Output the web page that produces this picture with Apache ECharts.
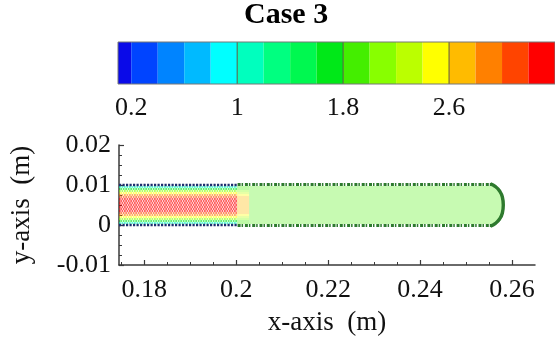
<!DOCTYPE html>
<html><head><meta charset="utf-8">
<script src="https://cdn.jsdelivr.net/npm/echarts@6/dist/echarts.min.js"></script>
<style>html,body{margin:0;padding:0;background:#fff}#c{width:555px;height:341px}</style>
</head><body><div id="c"></div>
<script>
// ---- data ----
const chartTitle = 'Case 3';
const xTicks = [0.18, 0.2, 0.22, 0.24, 0.26];
const xMinorTicks = [0.175, 0.185, 0.19, 0.195, 0.205, 0.21, 0.215, 0.225, 0.23, 0.235, 0.245, 0.25, 0.255];
const yTicks = [-0.01, 0, 0.01, 0.02];
const levelEdges = [0.1, 0.2, 0.4, 0.6, 0.8, 1.0, 1.2, 1.4, 1.6, 1.8, 2.0, 2.2, 2.4, 2.6, 2.8, 3.0, 3.2, 3.4];
const levelColors = ['#0a0ae8', '#0044ff', '#0084ff', '#00baff', '#00ffff', '#00ffbe', '#00ff80', '#00f850', '#00e818',
                     '#44ee00', '#88ff00', '#bbff00', '#ffff00', '#ffbb00', '#ff8000', '#ff4400', '#ff0000'];
const colorbarTicks = [0.2, 1, 1.8, 2.6];
const colorbarLines = [1, 1.8, 2.6];

const rowY = [0.0005, 0.001, 0.0015, 0.002, 0.0025, 0.003, 0.0035, 0.004, 0.0045, 0.005,
              0.0055, 0.006, 0.0065, 0.007, 0.0075, 0.008, 0.0085, 0.009, 0.0095];
const inletValues = [1.1, 1.7, 2.1, 2.5, 2.8, 3.1, 3.2, 3.3, 3.3, 3.3, 3.3, 3.3, 3.2, 3.1, 2.8, 2.5, 2.1, 1.7, 1.1];
const transitionValues = [1.9, 1.9, 2.0, 2.3, 2.5, 2.6, 2.7, 2.7, 2.7, 2.7, 2.7, 2.7, 2.7, 2.6, 2.5, 2.3, 2.0, 1.9, 1.9];
const jetValue = 1.9;
const jetEnd = [0.2562, 0.2568, 0.2572, 0.2575, 0.2577, 0.2579, 0.258, 0.2581, 0.2581, 0.2581,
                0.2581, 0.2581, 0.258, 0.2579, 0.2577, 0.2575, 0.2572, 0.2568, 0.2562];
const inletRange = [0.1745, 0.2002];
const transitionRange = [0.2002, 0.2028];
const wallY = [0, 0.01];
const wallRange = [0.1745, 0.2003];
const jetEdgeY = [-0.0001, 0.0101];
const jetEdgeRange = [0.2003, 0.2558];
const frontArc = [[0.2553, 0.0103], [0.2564, 0.0096], [0.2573, 0.0085], [0.2579, 0.007], [0.2581, 0.005],
                  [0.2579, 0.003], [0.2573, 0.0015], [0.2564, 0.0004], [0.2553, -0.0003]];

// ---- helpers ----
function colorOf(v) {
  for (let i = 0; i < levelColors.length; i++) {
    if (v >= levelEdges[i] && v < levelEdges[i + 1]) return levelColors[i];
  }
  return levelColors[levelColors.length - 1];
}
const FONT = '"Liberation Serif", "Times New Roman", serif';
const TXT = '#111';
const AX = '#3a3a3a';

const series = [];
// colorbar
series.push({
  type: 'custom', xAxisIndex: 2, yAxisIndex: 1, silent: true,
  data: levelColors.map((c, i) => [levelEdges[i], levelEdges[i + 1], i]),
  renderItem: function (params, api) {
    const p0 = api.coord([api.value(0), 1]);
    const p1 = api.coord([api.value(1), 0]);
    return { type: 'rect', shape: { x: p0[0], y: p0[1], width: p1[0] - p0[0], height: p1[1] - p0[1] },
             style: { fill: levelColors[api.value(2)] } };
  }
});
series.push({
  type: 'custom', xAxisIndex: 2, yAxisIndex: 1, silent: true,
  data: colorbarLines.map(v => [v]),
  renderItem: function (params, api) {
    const p0 = api.coord([api.value(0), 1]);
    const p1 = api.coord([api.value(0), 0]);
    return { type: 'line', shape: { x1: p0[0], y1: p0[1], x2: p1[0], y2: p1[1] },
             style: { stroke: '#5a5a40', lineWidth: 1 } };
  }
});
series.push({
  type: 'custom', xAxisIndex: 2, yAxisIndex: 1, silent: true,
  data: [[levelEdges[0], levelEdges[levelEdges.length - 1]]],
  renderItem: function (params, api) {
    const p0 = api.coord([api.value(0), 1]);
    const p1 = api.coord([api.value(1), 0]);
    return { type: 'rect', shape: { x: p0[0], y: p0[1], width: p1[0] - p0[0], height: p1[1] - p0[1] },
             style: { fill: 'none', stroke: '#777', lineWidth: 1 } };
  }
});

function rowLine(x0, x1, y, color, width, dash, opacity, offset) {
  series.push({ type: 'line', xAxisIndex: 0, yAxisIndex: 0, silent: true, symbol: 'none',
    data: [[x0, y], [x1, y]],
    lineStyle: { color: color, width: width, type: dash, dashOffset: offset || 0, opacity: opacity } });
}
rowY.forEach((y, i) => {
  rowLine(inletRange[0], inletRange[1], y, colorOf(inletValues[i]), 2, [1.8, 0.7], 0.62, (i % 2) * 1.25);
  rowLine(transitionRange[0], transitionRange[1], y, colorOf(transitionValues[i]), 2, 'solid', 0.35);
  rowLine(transitionRange[1], jetEnd[i], y, colorOf(jetValue), 2, 'solid', 0.3);
});
wallY.forEach(y => rowLine(wallRange[0], wallRange[1], y, '#1c2f6e', 2.6, [2.2, 1.3], 1));
jetEdgeY.forEach(y => rowLine(jetEdgeRange[0], jetEdgeRange[1], y, '#2e7a2e', 3, [3, 1, 1.5, 1.8], 1));
series.push({ type: 'line', xAxisIndex: 0, yAxisIndex: 0, silent: true, symbol: 'none', smooth: true,
  data: frontArc, lineStyle: { color: '#2e7a2e', width: 3.4 } });

const option = {
  backgroundColor: '#fff',
  animation: false,
  title: { text: chartTitle, left: 244, top: 0, padding: 0,
           textStyle: { fontFamily: FONT, fontSize: 30, fontWeight: 'bold', color: '#000' } },
  grid: [
    { left: 118, top: 145, right: 20, bottom: 76 },
    { left: 118, top: 42, height: 42, width: 452 }
  ],
  xAxis: [
    { gridIndex: 0, type: 'value', min: 0.1745, max: 0.265, position: 'bottom',
      name: 'x-axis  (m)', nameLocation: 'middle', nameGap: 44,
      nameTextStyle: { fontFamily: FONT, fontSize: 27, color: TXT },
      axisLine: { show: true, onZero: false, lineStyle: { color: AX, width: 1.5 } },
      axisTick: { show: true, inside: true, length: 5, customValues: xTicks, lineStyle: { color: AX, width: 1.2 } },
      axisLabel: { customValues: xTicks, margin: 12, fontFamily: FONT, fontSize: 26, color: TXT,
                   formatter: v => String(+(+v).toFixed(3)) },
      splitLine: { show: false } },
    { gridIndex: 0, type: 'value', min: 0.1745, max: 0.265, position: 'bottom',
      axisLine: { show: false, onZero: false },
      axisTick: { show: true, inside: true, length: 3, customValues: xMinorTicks, lineStyle: { color: AX, width: 1 } },
      axisLabel: { show: false }, splitLine: { show: false } },
    { gridIndex: 1, type: 'value', min: levelEdges[0], max: levelEdges[levelEdges.length - 1], position: 'bottom',
      axisLine: { show: false }, axisTick: { show: false }, splitLine: { show: false },
      axisLabel: { customValues: colorbarTicks, margin: 11, fontFamily: FONT, fontSize: 26, color: TXT,
                   formatter: v => String(+(+v).toFixed(2)) } }
  ],
  yAxis: [
    { gridIndex: 0, type: 'value', min: yTicks[0], max: yTicks[yTicks.length - 1], interval: 0.01,
      name: 'y-axis  (m)', nameLocation: 'middle', nameGap: 84, nameRotate: 90,
      nameTextStyle: { fontFamily: FONT, fontSize: 27, color: TXT },
      axisLine: { show: true, onZero: false, lineStyle: { color: AX, width: 1.5 } },
      axisTick: { show: true, inside: true, length: 5, lineStyle: { color: AX, width: 1.2 } },
      minorTick: { show: true, splitNumber: 4, length: 3, lineStyle: { color: AX, width: 1 } },
      axisLabel: { margin: 8, fontFamily: FONT, fontSize: 26, color: TXT, padding: [6, 0, 0, 0],
                   formatter: v => String(+(+v).toFixed(3)) },
      splitLine: { show: false } },
    { gridIndex: 1, type: 'value', min: 0, max: 1, show: false }
  ],
  series: series
};
const chart = echarts.init(document.getElementById('c'));
chart.setOption(option);
</script>
</body></html>
